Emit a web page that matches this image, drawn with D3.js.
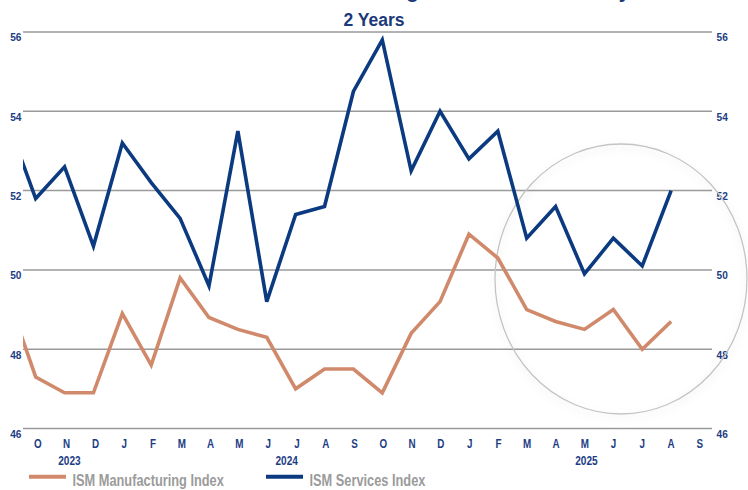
<!DOCTYPE html>
<html>
<head>
<meta charset="utf-8">
<script src="https://cdn.jsdelivr.net/npm/d3@7"></script>
<style>
  html, body { margin: 0; padding: 0; background: #ffffff; }
  svg { display: block; }
</style>
</head>
<body>
<svg id="chart" width="748" height="490"></svg>
<script>
// ---------------- data ----------------
const months = ["S23","O","N","D","J","F","M","A","M","J","J","A","S","O","N","D","J","F","M","A","M","J","J","A","S"];
const monthKeys = months.map((m, i) => i + ":" + m);
const tickMonths = months.slice(1);            // labels drawn under the axis (Oct 2023 .. Sep 2025)
const years = ["2023", "2024", "2025"];
const yearAnchors = [2.1, 9.62, 20];            // month index (in monthKeys) under which each year sits
const yTicks = [46, 48, 50, 52, 54, 56];

// ISM Manufacturing Index (Sep 2023 .. Aug 2025)
const manufacturing = [49.4, 47.3, 46.9, 46.9, 48.9, 47.6, 49.8, 48.8, 48.5, 48.3, 47.0, 47.5, 47.5, 46.9, 48.4, 49.2, 50.9, 50.3, 49.0, 48.7, 48.5, 49.0, 48.0, 48.7];
// ISM Services Index (Sep 2023 .. Aug 2025)
const services = [53.8, 51.8, 52.6, 50.6, 53.2, 52.2, 51.3, 49.6, 53.5, 49.2, 51.4, 51.6, 54.5, 55.8, 52.5, 54.0, 52.8, 53.5, 50.8, 51.6, 49.9, 50.8, 50.1, 52.0];

const seriesNames = ["ISM Manufacturing Index", "ISM Services Index"];

// ---------------- drawing ----------------
const svg = d3.select("#chart");
const W = 748, H = 490;
const plot = { left: 23, right: 712, top: 32, bottom: 428.5 };
const navy = "#0b3a80";
const textBlue = "#1c3d85";
const tan = "#d08a6b";
const sans = "'Liberation Sans', Arial, sans-serif";

// condense a text selection horizontally (the original uses a narrow typeface)
function condense(sel, k) {
  sel.each(function () {
    const len = this.getComputedTextLength();
    d3.select(this).attr("textLength", len * k).attr("lengthAdjust", "spacingAndGlyphs");
  });
}

const x = d3.scalePoint().domain(monthKeys).range([6.8, 700]);
const y = d3.scaleLinear().domain([46, 56]).range([plot.bottom, plot.top]);

const defs = svg.append("defs");
defs.append("clipPath").attr("id", "plotClip")
  .append("rect").attr("x", plot.left).attr("y", 0)
  .attr("width", plot.right - plot.left).attr("height", H);
const f = defs.append("filter").attr("id", "soft").attr("x", "-20%").attr("y", "-20%").attr("width", "140%").attr("height", "140%");
f.append("feDropShadow").attr("dx", 0).attr("dy", 3).attr("stdDeviation", 4)
  .attr("flood-color", "#000").attr("flood-opacity", 0.12);

// partially visible chart title (cut off by the top edge, as in the original)
svg.append("text")
  .attr("x", 235.5).attr("y", -1.7)
  .attr("font-family", sans)
  .attr("font-weight", "bold").attr("font-size", 20.5)
  .attr("fill", "#1b3a7a")
  .text("ISM Manufacturing and Services Activity");

svg.append("text")
  .attr("x", 374).attr("y", 26)
  .attr("text-anchor", "middle")
  .attr("font-family", sans)
  .attr("font-weight", "bold").attr("font-size", 17.5)
  .attr("fill", "#1b3a7a")
  .text("2 Years");

// grid lines
svg.append("g")
  .selectAll("line").data(yTicks).join("line")
  .attr("x1", plot.left).attr("x2", plot.right)
  .attr("y1", d => y(d)).attr("y2", d => y(d))
  .attr("stroke", "#9a9a9a").attr("stroke-width", 1.5);

// y axis labels left + right
const yLab = svg.append("g")
  .attr("font-family", sans).attr("font-weight", "bold")
  .attr("font-size", 11.5).attr("fill", textBlue);
yLab.selectAll("text.l").data(yTicks).join("text").attr("class", "l")
  .attr("x", 21.5).attr("y", d => y(d) + 9.3).attr("text-anchor", "end")
  .text(d => d).call(condense, 0.88);
yLab.selectAll("text.r").data(yTicks).join("text").attr("class", "r")
  .attr("x", 716.5).attr("y", d => y(d) + 9.3).attr("text-anchor", "start")
  .text(d => d).call(condense, 0.88);

// x axis month labels
const xLab = svg.append("g")
  .attr("font-family", sans).attr("font-weight", "bold")
  .attr("font-size", 12).attr("fill", textBlue);
xLab.selectAll("text.m").data(tickMonths).join("text").attr("class", "m")
  .attr("x", (d, i) => x(monthKeys[i + 1]) + 2.2 - i * 0.1)
  .attr("y", 447.8).attr("text-anchor", "middle")
  .text(d => d).call(condense, 0.82);

// year labels
const step = x.step();
xLab.selectAll("text.yr").data(years).join("text").attr("class", "yr")
  .attr("x", (d, i) => x(monthKeys[0]) + yearAnchors[i] * step + 2)
  .attr("y", 464.5).attr("text-anchor", "middle")
  .text(d => d).call(condense, 0.84);

// highlight circle
svg.append("ellipse")
  .attr("cx", 621).attr("cy", 279).attr("rx", 126).attr("ry", 135)
  .attr("fill", "none").attr("stroke", "#c4c4c4").attr("stroke-width", 1.3)
  .attr("filter", "url(#soft)");

// lines
const line = d3.line()
  .x((d, i) => x(monthKeys[i]))
  .y(d => y(d));
const lines = svg.append("g").attr("clip-path", "url(#plotClip)");
lines.append("path").datum(manufacturing)
  .attr("d", line).attr("fill", "none")
  .attr("stroke", tan).attr("stroke-width", 3.6).attr("stroke-linejoin", "miter");
lines.append("path").datum(services)
  .attr("d", line).attr("fill", "none")
  .attr("stroke", navy).attr("stroke-width", 3.6).attr("stroke-linejoin", "miter");

// legend
const legend = [
  { name: seriesNames[0], color: tan, x0: 29, x1: 66, tx: 72.5 },
  { name: seriesNames[1], color: navy, x0: 266, x1: 303, tx: 309.5 }
];
const lg = svg.append("g");
legend.forEach(l => {
  lg.append("line").attr("x1", l.x0).attr("x2", l.x1)
    .attr("y1", 476.7).attr("y2", 476.7)
    .attr("stroke", l.color).attr("stroke-width", 4);
  lg.append("text").attr("x", l.tx).attr("y", 486.3)
    .attr("font-family", sans).attr("font-weight", "bold")
    .attr("font-size", 15.6).attr("fill", "#9b9b9b")
    .text(l.name).call(condense, 0.82);
});
</script>
</body>
</html>
